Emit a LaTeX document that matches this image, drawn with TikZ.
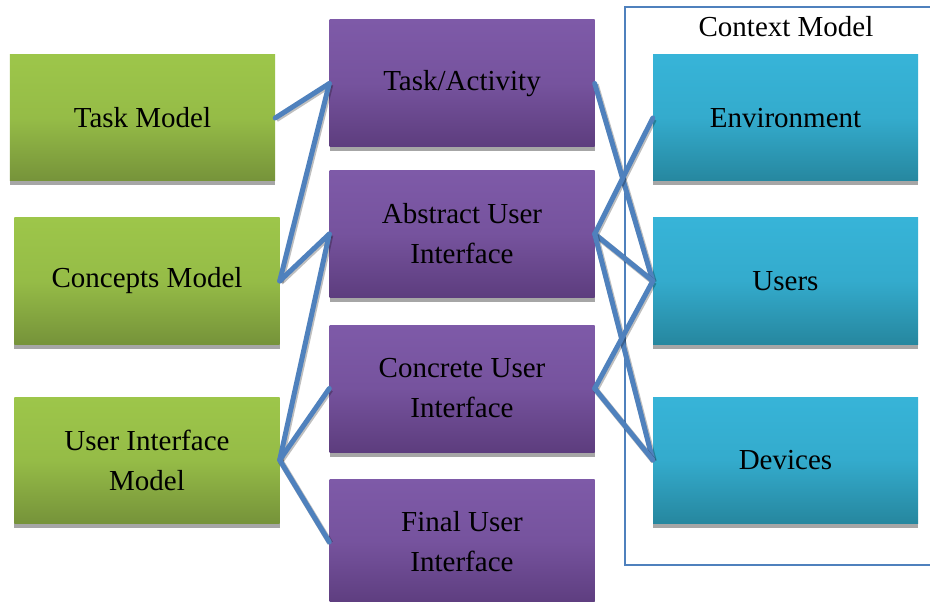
\documentclass[tikz,border=0pt]{standalone}
\usepackage{fontspec}
\setmainfont{Liberation Serif}
\usetikzlibrary{shadows}
\definecolor{gtop}{HTML}{9DC64A}
\definecolor{gbot}{HTML}{76933A}
\definecolor{ptop}{HTML}{7E5AA8}
\definecolor{pbot}{HTML}{5D3D7E}
\definecolor{ctop}{HTML}{37B4D8}
\definecolor{cbot}{HTML}{26879F}
\definecolor{conn}{HTML}{4F81BD}
\definecolor{shadowgray}{HTML}{A6A6A6}
\tikzset{
  basebox/.style={minimum width=265bp, minimum height=126bp, inner sep=0pt, align=center,
    font=\fontsize{29bp}{40bp}\selectfont,
    drop shadow={shadow xshift=0bp, shadow yshift=-4.5bp, fill=shadowgray, opacity=1}},
  greenbox/.style={basebox, top color=gtop, bottom color=gbot, middle color=gtop!80!gbot},
  purplebox/.style={basebox, top color=ptop, bottom color=pbot, middle color=ptop!75!pbot},
  cyanbox/.style={basebox, top color=ctop, bottom color=cbot, middle color=ctop!80!cbot},
  link/.style={draw=conn, line width=5bp, line cap=round, line join=round,
    preaction={draw=black, opacity=.25, line width=6bp, transform canvas={shift={(1bp,-1.2bp)}}}},
}
\begin{document}
\begin{tikzpicture}[x=1bp, y=-1bp]
\useasboundingbox[fill=white] (0,0) rectangle (930,602);

% context frame
\node[draw=conn, line width=1.6bp, minimum width=320bp, minimum height=558bp, anchor=north west, inner sep=0pt] (ctx) at (624,6) {};
\node[font=\fontsize{29bp}{40bp}\selectfont] (ctxlabel) at (786,27) {Context Model};

% left column
\node[greenbox] (tm) at (142.5,118) {Task Model};
\node[greenbox] (cm) at (147,281) {Concepts Model};
\node[greenbox] (uim) at (147,460) {User Interface\\Model};

% middle column
\node[purplebox, minimum height=127bp] (ta) at (462,83.5) {Task/Activity};
\node[purplebox] (aui) at (462,234) {Abstract User\\Interface};
\node[purplebox, minimum height=127bp] (cui) at (462,388.5) {Concrete User\\Interface};
\node[purplebox] (fui) at (462,542) {Final User\\Interface};

% right column
\node[cyanbox] (env) at (785.5,118) {Environment};
\node[cyanbox] (usr) at (785.5,281) {Users};
\node[cyanbox] (dev) at (785.5,460) {Devices};

% left connectors
\draw[link] (tm.east) -- (ta.west);
\draw[link] (cm.east) -- (ta.west);
\draw[link] (cm.east) -- (aui.west);
\draw[link] (uim.east) -- (aui.west);
\draw[link] (uim.east) -- (cui.west);
\draw[link] (uim.east) -- (fui.west);

% right connectors
\draw[link] (ta.east) -- (usr.west);
\draw[link] (aui.east) -- (env.west);
\draw[link] (aui.east) -- (usr.west);
\draw[link] (aui.east) -- (dev.west);
\draw[link] (cui.east) -- (usr.west);
\draw[link] (cui.east) -- (dev.west);
\end{tikzpicture}
\end{document}
